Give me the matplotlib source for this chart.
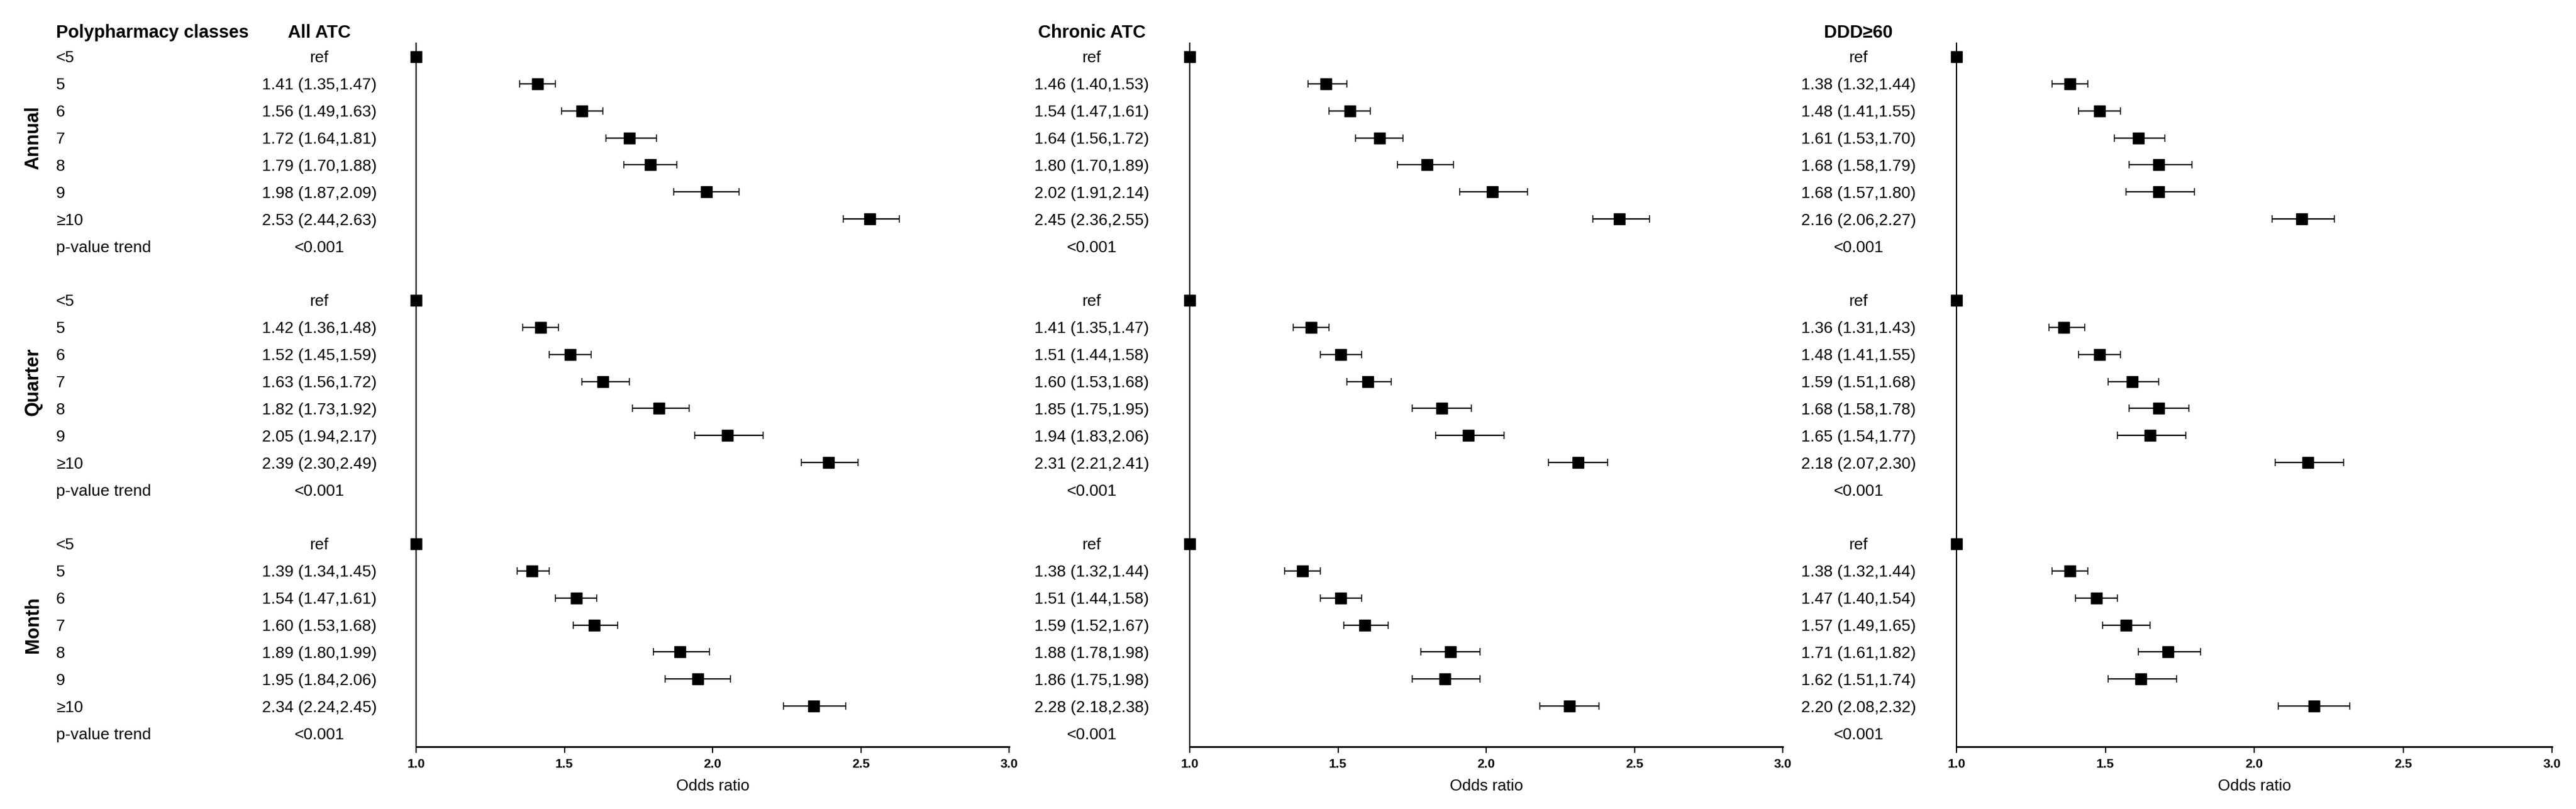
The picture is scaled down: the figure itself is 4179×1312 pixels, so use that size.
import matplotlib
matplotlib.use('Agg')
import matplotlib.pyplot as plt
from matplotlib.transforms import blended_transform_factory
import numpy as np

plt.rcParams['font.family'] = ['Liberation Sans', 'DejaVu Sans']

# ---------------- data ----------------
measures = ['All ATC', 'Chronic ATC', 'DDD≥60']
periods = ['Annual', 'Quarter', 'Month']
classes = ['<5', '5', '6', '7', '8', '9', '≥10']
pvalue_label = 'p-value trend'
pvalue_text = '<0.001'
ref_text = 'ref'
header_left = 'Polypharmacy classes'
xlabel = 'Odds ratio'
xticks = [1.0, 1.5, 2.0, 2.5, 3.0]

# odds ratios for classes 5,6,7,8,9,>=10 (reference <5 = 1.0)
# All ATC
all_annual_or = [1.41, 1.56, 1.72, 1.79, 1.98, 2.53]
all_annual_lo = [1.35, 1.49, 1.64, 1.70, 1.87, 2.44]
all_annual_hi = [1.47, 1.63, 1.81, 1.88, 2.09, 2.63]
all_quarter_or = [1.42, 1.52, 1.63, 1.82, 2.05, 2.39]
all_quarter_lo = [1.36, 1.45, 1.56, 1.73, 1.94, 2.30]
all_quarter_hi = [1.48, 1.59, 1.72, 1.92, 2.17, 2.49]
all_month_or = [1.39, 1.54, 1.60, 1.89, 1.95, 2.34]
all_month_lo = [1.34, 1.47, 1.53, 1.80, 1.84, 2.24]
all_month_hi = [1.45, 1.61, 1.68, 1.99, 2.06, 2.45]
# Chronic ATC
chr_annual_or = [1.46, 1.54, 1.64, 1.80, 2.02, 2.45]
chr_annual_lo = [1.40, 1.47, 1.56, 1.70, 1.91, 2.36]
chr_annual_hi = [1.53, 1.61, 1.72, 1.89, 2.14, 2.55]
chr_quarter_or = [1.41, 1.51, 1.60, 1.85, 1.94, 2.31]
chr_quarter_lo = [1.35, 1.44, 1.53, 1.75, 1.83, 2.21]
chr_quarter_hi = [1.47, 1.58, 1.68, 1.95, 2.06, 2.41]
chr_month_or = [1.38, 1.51, 1.59, 1.88, 1.86, 2.28]
chr_month_lo = [1.32, 1.44, 1.52, 1.78, 1.75, 2.18]
chr_month_hi = [1.44, 1.58, 1.67, 1.98, 1.98, 2.38]
# DDD>=60
ddd_annual_or = [1.38, 1.48, 1.61, 1.68, 1.68, 2.16]
ddd_annual_lo = [1.32, 1.41, 1.53, 1.58, 1.57, 2.06]
ddd_annual_hi = [1.44, 1.55, 1.70, 1.79, 1.80, 2.27]
ddd_quarter_or = [1.36, 1.48, 1.59, 1.68, 1.65, 2.18]
ddd_quarter_lo = [1.31, 1.41, 1.51, 1.58, 1.54, 2.07]
ddd_quarter_hi = [1.43, 1.55, 1.68, 1.78, 1.77, 2.30]
ddd_month_or = [1.38, 1.47, 1.57, 1.71, 1.62, 2.20]
ddd_month_lo = [1.32, 1.40, 1.49, 1.61, 1.51, 2.08]
ddd_month_hi = [1.44, 1.54, 1.65, 1.82, 1.74, 2.32]

data = {
    'All ATC': [(all_annual_or, all_annual_lo, all_annual_hi),
                (all_quarter_or, all_quarter_lo, all_quarter_hi),
                (all_month_or, all_month_lo, all_month_hi)],
    'Chronic ATC': [(chr_annual_or, chr_annual_lo, chr_annual_hi),
                    (chr_quarter_or, chr_quarter_lo, chr_quarter_hi),
                    (chr_month_or, chr_month_lo, chr_month_hi)],
    'DDD≥60': [(ddd_annual_or, ddd_annual_lo, ddd_annual_hi),
               (ddd_quarter_or, ddd_quarter_lo, ddd_quarter_hi),
               (ddd_month_or, ddd_month_lo, ddd_month_hi)],
}

# ---------------- layout ----------------
W, H = 4179, 1312
fig = plt.figure(figsize=(W / 100, H / 100), dpi=100)

panel_left_px = [675, 1930, 3174]
panel_width_px = [962, 962, 966]
text_center_px = [518, 1771, 3015]
top_px, bottom_px = 70, 1211
label_left_px = 91
period_x_px = 54

fs_text = 19
fs_head = 21
fs_period = 22
fs_tick = 15
fs_xlabel = 18.5

axes = []
for i, m in enumerate(measures):
    ax = fig.add_axes([panel_left_px[i] / W, 1 - bottom_px / H,
                       panel_width_px[i] / W, (bottom_px - top_px) / H])
    ax.set_xlim(1.0, 3.0)
    ax.set_ylim(25.5, -0.5)
    for s in ['top', 'right']:
        ax.spines[s].set_visible(False)
    ax.spines['left'].set_linewidth(1.5)
    ax.spines['bottom'].set_linewidth(2.0)
    ax.set_yticks([])
    ax.set_xticks(xticks)
    ax.set_xticklabels(['%.1f' % t for t in xticks], fontsize=fs_tick, fontweight='bold')
    ax.tick_params(axis='x', direction='out', length=7.5, width=1.4, pad=6)
    ax.set_xlabel(xlabel, fontsize=fs_xlabel, labelpad=10)
    ax.patch.set_alpha(0)
    axes.append(ax)

    trans = blended_transform_factory(fig.transFigure, ax.transData)
    cx = text_center_px[i] / W
    ax.text(cx, -0.95, m, transform=trans, ha='center', va='center_baseline',
            fontsize=fs_head, fontweight='bold', clip_on=False)

    for p, (orv, lov, hiv) in enumerate(data[m]):
        base = p * 9
        rows = np.arange(base + 1, base + 1 + len(orv))
        orv = np.array(orv); lov = np.array(lov); hiv = np.array(hiv)
        ax.errorbar(orv, rows, xerr=[orv - lov, hiv - orv], fmt='none',
                    ecolor='black', elinewidth=1.6, capsize=4, capthick=1.1, zorder=2)
        ax.plot(orv, rows, 's', color='black', ms=13.5, zorder=3)
        ax.plot([1.0], [base], 's', color='black', ms=13.5, zorder=3, clip_on=False)
        ax.text(cx, base, ref_text, transform=trans, ha='center', va='center_baseline',
                fontsize=fs_text, clip_on=False)
        for k in range(len(orv)):
            ax.text(cx, rows[k], '%.2f (%.2f,%.2f)' % (orv[k], lov[k], hiv[k]),
                    transform=trans, ha='center', va='center_baseline',
                    fontsize=fs_text, clip_on=False)
        ax.text(cx, base + 7, pvalue_text, transform=trans, ha='center',
                va='center_baseline', fontsize=fs_text, clip_on=False)

# left labels
ax0 = axes[0]
trans0 = blended_transform_factory(fig.transFigure, ax0.transData)
ax0.text(label_left_px / W, -0.95, header_left, transform=trans0, ha='left',
         va='center_baseline', fontsize=fs_head, fontweight='bold', clip_on=False)
for p, per in enumerate(periods):
    base = p * 9
    for k, c in enumerate(classes):
        ax0.text(label_left_px / W, base + k, c, transform=trans0, ha='left',
                 va='center_baseline', fontsize=fs_text, clip_on=False)
    ax0.text(label_left_px / W, base + 7, pvalue_label, transform=trans0, ha='left',
             va='center_baseline', fontsize=fs_text, clip_on=False)
    ax0.text(period_x_px / W, base + 3, per, transform=trans0, ha='center',
             va='center', rotation=90, fontsize=fs_period, fontweight='bold',
             clip_on=False)

fig.savefig('out.png', dpi=100, facecolor='white')
